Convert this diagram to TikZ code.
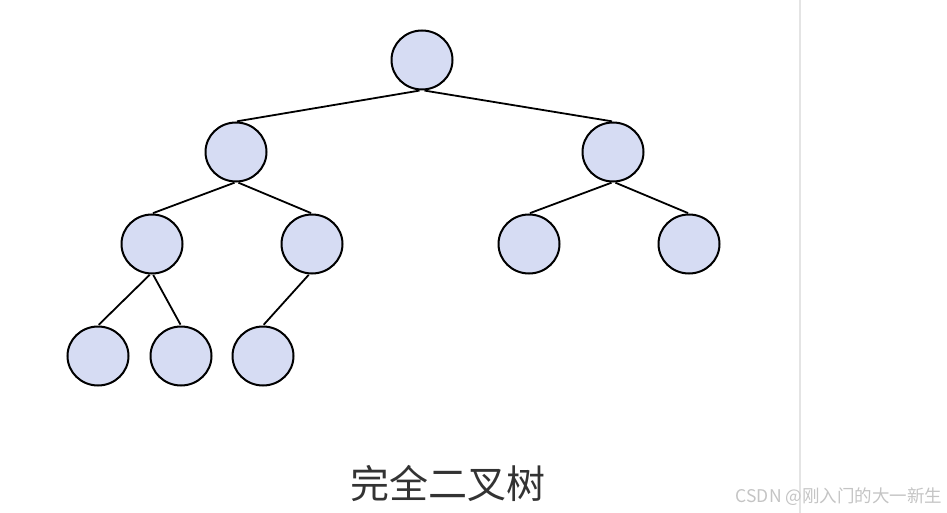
\documentclass[tikz,border=0pt]{standalone}
\usepackage{fontspec}
\setmainfont{Noto Sans CJK SC}
\usetikzlibrary{shapes.geometric}
\definecolor{nodeFill}{HTML}{D6DCF3}
\definecolor{capText}{HTML}{333333}
\definecolor{markText}{HTML}{C4C4C4}
\definecolor{sepLine}{HTML}{E4E4E4}
\tikzset{
  vert/.style ={draw, ellipse, fill=nodeFill, line width=2pt, inner sep=0pt, minimum width=61pt, minimum height=59pt},
  link/.style ={line width=1.8pt, shorten <=0.5pt, shorten >=1pt},
  caption/.style={text=capText, font=\fontsize{39}{39}\selectfont, inner sep=0pt},
  wmark/.style ={text=markText, font=\fontsize{17.5}{18}\selectfont, inner sep=0pt},
}
\begin{document}
\begin{tikzpicture}[x=1pt, y=-1pt]
  \useasboundingbox (0,0) rectangle (947,513);
  % separator on the right
  \draw[sepLine, line width=2pt] (800,0) -- (800,513);
  % levels of the tree
  \node[vert] (r)    at (422,60)  {};
  \node[vert] (l)    at (236,152) {};
  \node[vert] (rt)   at (613,152) {};
  \node[vert] (ll)   at (152,244) {};
  \node[vert] (lr)   at (312,244) {};
  \node[vert] (rl)   at (529,244) {};
  \node[vert] (rr)   at (689,244) {};
  \node[vert] (lll)  at (98,356)  {};
  \node[vert] (llr)  at (181,356) {};
  \node[vert] (lrl)  at (263,356) {};

  \draw[link] ([xshift=-2pt]r.south) -- (l.north);
  \draw[link] ([xshift=2pt]r.south)  -- (rt.north);
  \draw[link] ([xshift=-1pt]l.south) -- (ll.north);
  \draw[link] ([xshift=2pt]l.south)  -- (lr.north);
  \draw[link] ([xshift=-1pt]rt.south) -- (rl.north);
  \draw[link] ([xshift=2pt]rt.south)  -- (rr.north);
  \draw[link] ([xshift=-2pt]ll.south) -- (lll.north);
  \draw[link] ([xshift=1pt]ll.south)  -- (llr.north);
  \draw[link] ([xshift=-3pt]lr.south) -- (lrl.north);

  \node[caption] (title) at (448,483) {完全二叉树};
  \node[wmark]   (wm)    at (839,497) {CSDN @刚入门的大一新生};
\end{tikzpicture}
\end{document}
